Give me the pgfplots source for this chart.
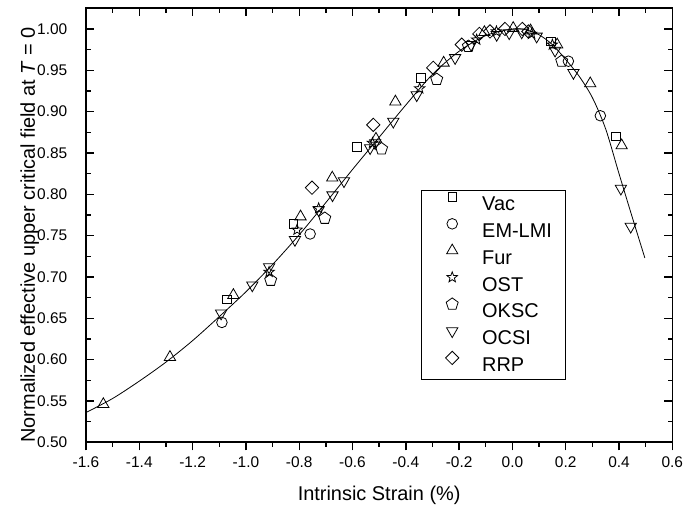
\documentclass[border=0pt]{standalone}
\usepackage{pgfplots}
\pgfplotsset{compat=1.18}
\usepackage{fontspec}
\setmainfont{Liberation Sans}
\usetikzlibrary{plotmarks}
\pgfdeclareplotmark{ostar}{%
  \pgfpathmoveto{\pgfqpointpolar{90}{\pgfplotmarksize}}%
  \pgfpathlineto{\pgfqpointpolar{126}{0.42\pgfplotmarksize}}%
  \pgfpathlineto{\pgfqpointpolar{162}{\pgfplotmarksize}}%
  \pgfpathlineto{\pgfqpointpolar{198}{0.42\pgfplotmarksize}}%
  \pgfpathlineto{\pgfqpointpolar{234}{\pgfplotmarksize}}%
  \pgfpathlineto{\pgfqpointpolar{270}{0.42\pgfplotmarksize}}%
  \pgfpathlineto{\pgfqpointpolar{306}{\pgfplotmarksize}}%
  \pgfpathlineto{\pgfqpointpolar{342}{0.42\pgfplotmarksize}}%
  \pgfpathlineto{\pgfqpointpolar{18}{\pgfplotmarksize}}%
  \pgfpathlineto{\pgfqpointpolar{54}{0.42\pgfplotmarksize}}%
  \pgfpathclose
  \pgfusepathqstroke
}
\pgfplotsset{
  base/.style={
    scale only axis, width=586.3bp, height=434bp,
    xmin=-1.6, xmax=0.6, ymin=0.5, ymax=1.025,
    xtick={-1.6,-1.4,-1.2,-1.0,-0.8,-0.6,-0.4,-0.2,0,0.2,0.4,0.6},
    minor x tick num=1,
    ytick={0.5,0.55,0.6,0.65,0.7,0.75,0.8,0.85,0.9,0.95,1.0},
    minor y tick num=1,
    major tick length=8bp, minor tick length=4.5bp,
    axis line style={line width=1.6bp},
    every tick/.style={black, line width=1.4bp},
    /pgf/number format/assume math mode=true,
    tick label style={font=\fontsize{15.5}{15.5}\selectfont},
  }
}
\begin{document}
\begin{tikzpicture}
\useasboundingbox (-86bp,-69.7bp) rectangle (600bp,442.3bp);
% overlay for bottom ticks (outside) and labels
\begin{axis}[base, tick align=outside, xtick pos=left, ytick pos=left,
  yticklabel style={inner sep=0pt, anchor=east, xshift=-10.5bp, /pgf/number format/fixed, /pgf/number format/fixed zerofill, /pgf/number format/precision=2},
  ytick style={draw=none},
  minor y tick style={draw=none},
  xticklabel style={inner sep=0pt, anchor=north, yshift=-6bp, /pgf/number format/fixed, /pgf/number format/fixed zerofill, /pgf/number format/precision=1},
  xlabel={Intrinsic Strain (\%)},
  ylabel={Normalized effective upper critical field at \textit{T} = 0},
  every axis x label/.style={at={([yshift=-58bp]axis description cs:0.5,0)}, anchor=base, font=\fontsize{20}{20}\selectfont},
  every axis y label/.style={at={([xshift=-51bp]axis description cs:0,0.478)}, rotate=90, anchor=base, font=\fontsize{20}{20}\selectfont},
]
\addplot[draw=none] coordinates {(0,0.6)};
\end{axis}
\begin{axis}[base, tick align=inside, xtick pos=right, ytick pos=both,
  xticklabels={}, yticklabels={},
  legend style={at={(0.5726,0.5959)}, anchor=north west, draw=none, fill=none,
    inner xsep=13.3bp, inner ysep=3bp, row sep=2.9bp, column sep=13bp,
    font=\fontsize{20}{20}\selectfont, nodes={inner sep=0bp, text depth=0bp}},
  legend cell align=left,
  legend image code/.code={\path[draw=none,fill=none] (-17bp,-3bp) rectangle (17bp,17bp); \draw[#1] plot coordinates {(0bp,6.8bp)};},
]
\addplot[black, line width=0.8bp, smooth, forget plot] coordinates {
(-1.60,0.536) (-1.50,0.553) (-1.40,0.574) (-1.30,0.597) (-1.20,0.623)
(-1.10,0.652) (-1.00,0.682) (-0.90,0.715) (-0.80,0.751) (-0.70,0.790)
(-0.60,0.830) (-0.50,0.869) (-0.40,0.908) (-0.30,0.945) (-0.20,0.973)
(-0.10,0.992) (0.00,1.000) (0.05,0.999) (0.10,0.993) (0.15,0.981)
(0.20,0.963) (0.25,0.943) (0.30,0.917) (0.35,0.879) (0.40,0.825)
(0.45,0.772) (0.497,0.723)};
% Vac
\addplot[only marks, black, mark=square, mark size=4.3bp, mark options={line width=0.8bp}] coordinates {
(-1.072,0.673) (-0.822,0.764) (-0.583,0.857) (-0.343,0.941) (0.145,0.985) (0.388,0.870)};
\addlegendentry{Vac}
% EM-LMI
\addplot[only marks, black, mark=o, mark size=5.3bp, mark options={line width=0.8bp}] coordinates {
(-1.090,0.645) (-0.759,0.752) (0.210,0.961) (0.330,0.895)};
\addlegendentry{EM-LMI}
% Fur
\addplot[only marks, black, mark=triangle, mark size=6.5bp, mark options={line width=0.8bp}] coordinates {
(-1.535,0.546) (-1.285,0.603) (-1.047,0.678) (-0.795,0.773) (-0.676,0.820) (-0.512,0.867)
(-0.439,0.912) (-0.258,0.959) (-0.105,0.996) (0.003,1.001) (0.068,0.998) (0.168,0.981)
(0.292,0.934) (0.410,0.859)};
\addlegendentry{Fur}
% OST
\addplot[only marks, black, mark=ostar, mark size=5.5bp, mark options={line width=0.8bp}] coordinates {
(-0.913,0.706) (-0.808,0.757) (-0.727,0.783) (-0.525,0.862) (-0.348,0.928) (-0.134,0.987)
(-0.060,0.997) (0.072,0.994) (0.150,0.981)};
\addlegendentry{OST}
% OKSC
\addplot[only marks, black, mark=pentagon, mark size=6.3bp, mark options={line width=0.8bp}] coordinates {
(-0.907,0.696) (-0.704,0.771) (-0.491,0.855) (-0.284,0.939) (-0.165,0.979) (0.185,0.961)};
\addlegendentry{OKSC}
% OCSI
\addplot[only marks, black, mark=triangle, mark size=6.5bp, mark options={line width=0.8bp, rotate=180}] coordinates {
(-1.093,0.656) (-0.976,0.690) (-0.913,0.712) (-0.816,0.745) (-0.727,0.781) (-0.675,0.799)
(-0.632,0.816) (-0.534,0.856) (-0.515,0.862) (-0.447,0.888) (-0.359,0.920) (-0.215,0.965)
(-0.155,0.981) (-0.059,0.993) (-0.012,0.995) (0.035,0.996) (0.091,0.991) (0.160,0.974)
(0.229,0.947) (0.407,0.807) (0.444,0.761)};
\addlegendentry{OCSI}
% RRP
\addplot[only marks, black, mark=square, mark size=4.7bp, mark options={line width=0.8bp, rotate=45}] coordinates {
(-0.752,0.808) (-0.522,0.884) (-0.297,0.953) (-0.190,0.981) (-0.124,0.994) (-0.084,0.997)
(-0.028,1.000) (0.037,1.000) (0.060,0.997)};
\addlegendentry{RRP}
\end{axis}
% third axis: legend frame drawn on top
\begin{axis}[base, hide axis]
\addplot[black, line width=0.9bp, line join=miter, mark=none] coordinates {
(-0.340,0.5762) (0.1985,0.5762) (0.1985,0.8043) (-0.340,0.8043) (-0.340,0.5762) (0.1985,0.5762)};
\end{axis}
\end{tikzpicture}
\end{document}
